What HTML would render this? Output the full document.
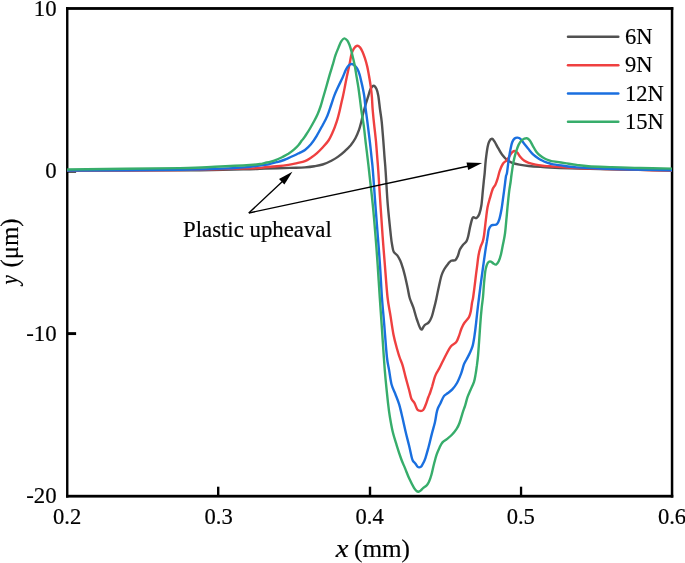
<!DOCTYPE html>
<html><head><meta charset="utf-8"><title>chart</title>
<style>
html,body{margin:0;padding:0;background:#fff;}
body{width:685px;height:563px;overflow:hidden;position:relative;}
svg{position:absolute;left:0;top:0;display:block;}
text{font-family:"Liberation Serif",serif;fill:#000;stroke:#000;stroke-width:0.18px;}
</style></head><body>
<svg width="685" height="563" viewBox="0 0 685 563">
<rect width="685" height="563" fill="#fff"/>
<!-- frame -->
<g fill="#000">
<rect x="66.05" y="7.08" width="2.4" height="490.52"/>
<rect x="670.8" y="7.08" width="2.5" height="490.52"/>
<rect x="66.05" y="7.08" width="607.25" height="2.8"/>
<rect x="66.05" y="494.8" width="607.25" height="2.8"/>
<rect x="67" y="169.75" width="9.1" height="2.9"/>
<rect x="67" y="332.15" width="9.1" height="2.9"/>
<rect x="217" y="486.7" width="2.4" height="9"/>
<rect x="368.8" y="486.7" width="2.4" height="9"/>
<rect x="519.9" y="486.7" width="2.3" height="9"/>
</g>
<g fill="none" stroke-width="2.4" stroke-linejoin="round" stroke-linecap="butt">
<path d="M67.2 170.6C89.3 170.5 169.5 170.4 200.0 170.2C230.5 170.0 239.2 169.5 250.0 169.2C260.8 168.9 258.3 168.7 265.0 168.5C271.7 168.3 283.3 168.1 290.0 167.9C296.7 167.7 300.9 167.7 305.0 167.4C309.1 167.1 311.5 166.8 314.4 166.3C317.3 165.8 319.9 165.4 322.6 164.5C325.3 163.6 328.3 162.3 330.8 161.0C333.3 159.7 335.5 158.6 337.8 156.9C340.1 155.2 342.8 153.1 344.9 151.1C347.0 149.1 348.9 147.3 350.7 145.2C352.4 143.0 354.0 140.8 355.4 138.2C356.8 135.6 358.0 132.7 359.0 129.9C360.0 127.2 360.6 124.4 361.3 121.7C362.0 119.0 362.4 116.5 363.1 113.5C363.9 110.5 364.9 107.0 365.8 104.0C366.7 101.0 367.6 98.2 368.4 95.7C369.2 93.2 369.6 90.7 370.5 89.0C371.4 87.3 372.7 85.7 373.7 85.7C374.7 85.7 375.7 87.3 376.5 89.0C377.3 90.7 377.7 92.2 378.3 95.7C378.9 99.2 379.5 105.7 380.1 110.0C380.7 114.3 381.2 116.8 381.7 121.7C382.2 126.6 382.7 133.4 383.2 139.3C383.7 145.2 384.1 151.6 384.5 156.9C384.9 162.2 385.1 162.9 385.6 171.0C386.2 179.1 386.9 194.4 387.8 205.2C388.7 216.0 390.2 229.3 390.9 236.0C391.6 242.7 391.7 242.8 392.2 245.4C392.7 248.0 392.8 250.1 393.7 251.8C394.6 253.5 396.2 253.9 397.3 255.4C398.4 256.9 399.2 258.4 400.2 260.6C401.2 262.8 402.2 265.9 403.1 268.8C404.0 271.7 404.7 274.9 405.5 278.2C406.3 281.5 407.1 285.5 407.8 288.8C408.5 292.1 408.8 294.9 409.7 298.0C410.6 301.1 412.2 304.1 413.4 307.7C414.6 311.3 415.6 315.9 416.9 319.5C418.2 323.1 419.7 328.4 421.0 329.4C422.3 330.4 423.2 326.5 424.5 325.3C425.8 324.1 427.5 323.8 428.7 322.4C429.9 321.0 430.7 319.4 431.6 317.1C432.5 314.9 433.1 311.9 433.9 308.9C434.7 305.9 435.5 302.8 436.3 299.0C437.1 295.2 438.0 290.3 438.9 286.4C439.8 282.5 440.6 278.3 441.5 275.5C442.4 272.7 443.0 271.5 444.1 269.5C445.2 267.5 447.0 265.2 448.2 263.7C449.4 262.2 449.9 261.3 451.1 260.7C452.3 260.1 454.1 260.9 455.2 260.2C456.3 259.5 456.8 258.4 457.6 256.6C458.4 254.8 459.0 251.6 459.9 249.6C460.8 247.6 461.8 246.3 462.9 244.9C464.0 243.5 465.5 242.9 466.4 241.4C467.3 239.9 467.5 238.9 468.2 236.2C468.9 233.5 469.7 228.2 470.5 225.1C471.3 222.0 471.9 218.7 472.9 217.5C473.9 216.3 475.3 218.7 476.4 218.1C477.5 217.5 478.5 216.2 479.3 214.0C480.1 211.8 480.8 209.0 481.4 205.2C482.0 201.4 482.4 195.1 482.8 191.1C483.2 187.1 483.5 184.1 483.8 181.0C484.1 177.9 484.4 176.3 484.7 172.8C485.0 169.3 485.3 164.2 485.8 159.9C486.3 155.6 487.0 150.1 487.6 147.0C488.2 143.9 488.6 142.5 489.4 141.1C490.1 139.7 491.2 138.7 492.1 138.8C493.0 138.9 493.6 140.1 494.6 141.7C495.6 143.3 497.0 146.1 498.2 148.2C499.4 150.2 500.3 152.2 501.7 154.0C503.1 155.8 504.6 157.8 506.4 159.3C508.1 160.8 510.1 161.9 512.2 162.8C514.4 163.7 516.5 164.1 519.3 164.6C522.0 165.1 525.2 165.6 528.7 166.0C532.2 166.4 536.9 166.7 540.4 166.9C543.9 167.2 545.1 167.2 550.0 167.5C554.9 167.8 560.0 168.1 570.0 168.4C580.0 168.7 593.0 169.0 610.0 169.3C627.0 169.7 661.7 170.3 672.0 170.5" stroke="#515151"/>
<path d="M67.2 170.6C86.0 170.5 149.5 170.5 180.0 170.1C210.5 169.7 235.8 168.9 250.0 168.4C264.2 167.9 260.6 167.7 265.0 167.3C269.4 167.0 272.8 166.7 276.7 166.3C280.6 165.9 285.0 165.4 288.4 164.9C291.8 164.4 294.3 163.7 297.1 163.1C299.9 162.5 302.7 162.1 305.0 161.2C307.3 160.3 308.9 159.1 310.9 157.8C312.8 156.5 314.8 155.1 316.7 153.4C318.6 151.7 320.6 149.7 322.6 147.5C324.6 145.3 326.7 143.2 328.5 140.5C330.3 137.8 331.8 134.2 333.2 131.1C334.6 128.0 335.6 125.0 336.7 121.7C337.8 118.4 338.8 114.3 339.6 111.0C340.4 107.7 341.0 104.5 341.6 102.0C342.2 99.5 342.4 98.7 343.0 96.0C343.6 93.3 344.3 89.6 345.0 86.0C345.7 82.4 346.5 78.3 347.3 74.6C348.1 70.9 348.9 67.3 349.6 64.0C350.3 60.7 350.7 57.1 351.4 54.6C352.1 52.1 352.7 50.3 353.7 48.8C354.7 47.3 356.1 46.0 357.2 45.8C358.3 45.6 359.3 46.6 360.2 47.6C361.1 48.6 361.7 49.9 362.5 51.7C363.3 53.5 364.1 55.8 364.9 58.2C365.7 60.7 366.5 63.5 367.2 66.4C367.9 69.3 368.4 72.4 369.0 75.7C369.6 79.0 370.2 82.8 370.7 86.3C371.2 89.8 371.6 93.0 371.9 97.0C372.2 101.0 372.3 105.3 372.7 110.0C373.1 114.7 373.6 119.9 374.2 125.2C374.8 130.5 375.5 136.0 376.0 141.7C376.5 147.4 377.0 154.4 377.4 159.3C377.8 164.2 377.8 163.3 378.3 171.0C378.8 178.7 379.8 194.4 380.5 205.2C381.2 216.0 381.9 226.0 382.6 236.0C383.3 246.0 384.1 255.1 384.9 265.3C385.7 275.5 386.6 288.6 387.5 297.0C388.4 305.4 389.5 309.6 390.5 315.9C391.5 322.2 392.4 329.2 393.5 334.7C394.6 340.2 396.0 345.1 397.0 348.8C398.0 352.5 398.6 354.2 399.5 357.0C400.4 359.8 401.6 362.0 402.6 365.4C403.6 368.8 404.5 373.0 405.6 377.1C406.7 381.2 408.1 386.4 409.1 390.0C410.1 393.6 410.5 396.7 411.4 398.8C412.3 400.9 413.4 401.1 414.4 402.9C415.4 404.7 416.3 408.1 417.3 409.4C418.3 410.7 419.2 410.8 420.2 410.9C421.2 411.0 422.3 410.9 423.2 410.0C424.1 409.1 424.6 407.5 425.5 405.3C426.4 403.1 427.6 399.1 428.4 397.0C429.2 394.9 429.6 394.3 430.2 392.5C430.8 390.7 431.4 388.8 432.2 386.3C432.9 383.8 434.0 379.4 434.7 377.3C435.4 375.2 435.6 374.9 436.3 373.5C437.0 372.1 437.9 370.9 439.0 368.9C440.1 366.8 441.5 363.8 442.8 361.2C444.1 358.6 445.4 356.0 446.7 353.5C448.0 351.0 449.2 348.3 450.8 346.4C452.4 344.5 454.7 344.1 456.1 342.3C457.5 340.6 458.1 338.1 459.0 335.9C459.9 333.6 460.5 330.9 461.4 328.8C462.3 326.7 463.0 324.9 464.3 323.0C465.6 321.1 467.9 319.1 469.0 317.1C470.1 315.1 470.3 313.6 470.8 311.2C471.3 308.8 471.6 305.4 472.0 303.0C472.4 300.6 472.7 300.6 473.2 297.0C473.7 293.4 474.6 286.3 475.2 281.3C475.8 276.3 476.4 271.5 477.0 267.2C477.6 262.9 477.9 258.8 478.5 255.5C479.1 252.2 479.8 249.5 480.5 247.2C481.2 244.8 482.2 243.4 482.8 241.4C483.4 239.4 483.6 238.5 484.1 235.0C484.6 231.5 485.2 225.0 485.8 220.4C486.4 215.8 486.8 211.2 487.5 207.5C488.2 203.8 489.0 201.3 489.9 198.2C490.8 195.1 491.9 191.1 492.8 188.8C493.7 186.5 494.7 186.2 495.5 184.5C496.3 182.8 496.9 181.0 497.6 178.7C498.3 176.3 499.0 172.8 499.9 170.4C500.8 168.0 501.6 165.8 502.8 164.0C504.0 162.2 505.7 161.5 507.0 159.9C508.3 158.3 509.5 156.0 510.5 154.6C511.5 153.2 512.0 152.3 512.8 151.7C513.6 151.1 514.4 150.9 515.2 151.1C516.0 151.3 516.6 151.8 517.5 152.8C518.4 153.8 519.3 155.7 520.4 157.0C521.5 158.3 522.6 159.5 524.0 160.5C525.4 161.5 526.8 162.1 528.7 162.8C530.7 163.5 533.4 164.1 535.7 164.6C538.0 165.1 540.3 165.4 542.7 165.7C545.1 166.0 544.3 165.9 550.0 166.3C555.7 166.7 566.7 167.6 576.7 168.1C586.7 168.6 599.5 168.8 610.0 169.1C620.5 169.4 629.7 169.7 640.0 169.9C650.3 170.2 666.7 170.5 672.0 170.6" stroke="#ef4040"/>
<path d="M67.2 170.6C86.0 170.5 152.4 170.2 180.0 169.8C207.6 169.4 220.9 168.7 232.6 168.2C244.3 167.7 244.6 167.4 250.0 166.8C255.4 166.2 261.5 165.4 265.0 164.9C268.5 164.4 268.9 164.1 270.8 163.7C272.8 163.2 274.8 162.7 276.7 162.2C278.6 161.7 280.6 161.2 282.5 160.5C284.4 159.8 286.4 158.9 288.4 158.1C290.3 157.3 292.3 156.4 294.2 155.5C296.1 154.6 298.2 153.5 300.0 152.6C301.8 151.7 303.2 151.4 305.0 150.0C306.8 148.6 308.9 146.7 310.9 144.3C312.8 141.9 314.8 139.0 316.7 135.8C318.6 132.6 320.8 128.5 322.6 125.2C324.4 121.9 325.9 119.4 327.3 115.9C328.8 112.5 330.1 107.9 331.3 104.5C332.5 101.1 333.2 98.4 334.4 95.4C335.5 92.5 336.9 89.7 338.2 86.8C339.5 83.9 341.1 80.9 342.4 78.0C343.7 75.1 345.0 71.4 346.1 69.3C347.2 67.2 348.1 66.1 349.0 65.2C349.9 64.3 350.5 64.0 351.4 64.0C352.3 64.0 353.3 64.4 354.3 65.2C355.3 66.0 356.3 67.1 357.2 68.7C358.1 70.3 358.9 72.4 359.6 74.6C360.3 76.8 360.7 79.1 361.3 81.6C361.9 84.1 362.6 87.2 363.1 89.8C363.6 92.4 363.9 93.6 364.4 97.0C364.8 100.4 365.2 105.3 365.8 110.0C366.4 114.7 367.1 119.5 367.8 125.2C368.5 130.9 369.4 137.9 370.1 144.0C370.8 150.1 371.5 157.1 372.0 161.6C372.5 166.1 372.3 163.7 372.9 171.0C373.5 178.3 374.6 194.4 375.4 205.2C376.2 216.0 377.0 226.0 377.8 236.0C378.6 246.0 379.3 255.1 380.0 265.3C380.7 275.5 381.2 287.0 381.9 297.0C382.6 307.0 383.5 315.3 384.3 325.3C385.1 335.3 386.1 349.5 386.9 357.0C387.7 364.5 388.3 365.6 389.1 370.1C389.9 374.6 390.4 380.1 391.5 384.2C392.6 388.3 394.3 391.4 395.6 394.7C396.9 398.0 398.1 400.9 399.1 404.1C400.1 407.3 400.5 409.5 401.6 414.0C402.7 418.5 404.3 426.0 405.5 431.2C406.7 436.4 408.0 441.1 409.0 445.3C410.0 449.5 410.9 453.9 411.5 456.5C412.1 459.1 412.2 459.4 412.8 460.6C413.4 461.8 414.5 462.5 415.3 463.5C416.1 464.5 416.8 466.0 417.5 466.6C418.2 467.2 418.6 467.5 419.3 467.4C420.0 467.3 420.8 467.1 421.5 466.2C422.2 465.3 423.0 463.6 423.7 462.2C424.4 460.8 424.7 460.2 425.5 457.8C426.3 455.4 427.3 451.7 428.4 447.7C429.5 443.7 430.8 437.8 431.9 433.6C433.0 429.4 434.1 425.9 434.9 422.5C435.7 419.1 436.0 415.9 436.5 413.5C437.0 411.1 437.2 410.1 437.9 408.3C438.6 406.5 439.6 405.0 440.6 402.9C441.6 400.8 442.9 397.5 444.1 395.9C445.3 394.3 446.2 394.4 447.6 393.3C449.0 392.2 450.7 391.1 452.3 389.4C453.9 387.7 455.5 385.6 457.0 383.0C458.5 380.4 459.9 376.7 461.1 373.6C462.3 370.5 463.1 366.6 464.0 364.2C464.9 361.8 465.6 361.3 466.5 359.5C467.4 357.7 468.6 355.7 469.6 353.5C470.6 351.3 471.7 349.1 472.5 346.4C473.3 343.7 473.7 341.0 474.3 337.1C474.9 333.2 475.6 327.5 476.1 323.0C476.6 318.5 477.0 314.4 477.5 310.1C478.0 305.8 478.5 301.8 479.1 297.0C479.7 292.2 480.4 286.5 481.1 281.3C481.8 276.1 482.5 270.9 483.2 266.0C483.9 261.1 484.6 256.0 485.2 251.9C485.8 247.8 486.4 244.2 486.9 241.4C487.3 238.6 487.6 236.9 487.9 235.0C488.2 233.1 488.2 231.4 488.7 229.8C489.2 228.2 490.2 226.5 491.1 225.7C492.0 224.9 493.0 225.2 494.0 224.9C495.0 224.7 496.0 225.1 496.9 224.2C497.8 223.3 498.5 221.9 499.3 219.3C500.1 216.7 500.9 212.6 501.6 208.7C502.3 204.8 502.8 200.1 503.4 195.8C504.0 191.5 504.7 186.2 505.1 182.9C505.5 179.6 505.7 177.7 506.0 176.0C506.3 174.3 506.6 175.5 507.0 172.8C507.4 170.1 508.1 163.8 508.7 159.9C509.3 156.0 509.9 152.2 510.5 149.3C511.1 146.4 511.5 144.1 512.2 142.3C512.9 140.5 513.7 139.3 514.6 138.5C515.5 137.7 516.5 137.5 517.5 137.6C518.5 137.7 519.3 137.8 520.4 138.8C521.5 139.8 522.6 141.8 524.0 143.5C525.4 145.2 527.2 147.5 528.7 149.3C530.2 151.2 531.5 153.0 533.3 154.6C535.0 156.2 537.8 158.0 539.2 158.9C540.6 159.8 540.7 159.7 541.7 160.2C542.7 160.7 543.7 161.3 545.1 161.9C546.5 162.5 548.6 163.1 550.0 163.5C551.4 163.9 550.9 164.0 553.4 164.4C555.9 164.8 561.1 165.5 565.0 166.0C568.9 166.5 570.9 167.0 576.7 167.4C582.5 167.8 591.1 168.2 600.0 168.6C608.9 168.9 618.0 169.2 630.0 169.5C642.0 169.8 665.0 170.2 672.0 170.3" stroke="#1a6fdf"/>
<path d="M67.2 169.5C86.0 169.3 155.4 168.5 180.0 168.1C204.6 167.7 203.3 167.3 215.0 166.8C226.7 166.3 242.5 165.5 250.0 165.0C257.5 164.5 257.5 164.3 260.0 164.0C262.5 163.7 263.2 163.3 265.0 162.9C266.8 162.5 268.9 162.2 270.8 161.6C272.8 161.0 274.8 160.4 276.7 159.6C278.6 158.8 280.6 158.0 282.5 157.0C284.4 156.0 286.4 155.1 288.4 153.8C290.3 152.5 292.5 150.9 294.2 149.4C295.9 147.9 297.3 146.5 298.6 145.0C299.9 143.5 300.9 141.7 302.0 140.3C303.1 138.9 303.7 138.4 305.0 136.4C306.3 134.4 308.5 131.1 310.0 128.5C311.5 125.9 312.9 123.4 314.2 121.0C315.5 118.6 316.6 116.5 317.7 114.0C318.8 111.5 319.7 109.0 320.7 106.0C321.7 103.0 322.6 99.3 323.6 96.0C324.6 92.7 325.5 89.6 326.5 86.0C327.5 82.4 328.7 78.1 329.7 74.6C330.7 71.1 331.6 68.4 332.6 65.2C333.6 62.0 334.5 58.1 335.5 55.2C336.5 52.3 337.5 50.0 338.5 47.6C339.5 45.2 340.4 42.6 341.4 41.1C342.4 39.6 343.3 38.5 344.3 38.4C345.3 38.3 346.4 39.5 347.3 40.6C348.2 41.7 348.9 43.5 349.6 45.2C350.3 47.0 350.8 48.9 351.4 51.1C352.0 53.3 352.5 55.7 353.1 58.2C353.7 60.8 354.3 63.3 354.9 66.4C355.5 69.5 356.0 73.4 356.6 76.9C357.2 80.4 357.9 84.0 358.4 87.5C358.9 91.0 359.3 94.2 359.8 98.0C360.3 101.8 360.7 105.5 361.3 110.0C361.9 114.5 362.9 119.3 363.7 125.2C364.5 131.1 365.2 138.7 366.0 145.2C366.8 151.7 367.8 159.5 368.3 164.0C368.8 168.5 368.4 165.1 369.2 172.0C369.9 178.9 371.8 194.5 372.8 205.2C373.9 215.9 374.7 226.0 375.5 236.0C376.3 246.0 377.0 255.0 377.7 265.3C378.4 275.6 379.1 288.0 379.8 298.0C380.5 308.0 381.0 315.3 381.7 325.3C382.4 335.3 383.2 349.0 383.9 358.0C384.5 367.0 384.9 372.0 385.6 379.5C386.3 387.0 387.3 396.6 388.0 402.9C388.7 409.1 389.1 412.3 389.9 417.0C390.7 421.7 391.5 426.5 392.6 431.2C393.7 435.9 395.3 440.7 396.7 445.3C398.1 449.9 399.8 455.1 401.2 459.0C402.6 462.9 403.7 465.0 405.1 468.4C406.5 471.8 408.0 475.9 409.5 479.1C411.0 482.4 412.8 485.9 414.0 487.9C415.2 489.9 415.9 490.4 416.6 491.0C417.3 491.6 417.7 491.8 418.4 491.7C419.1 491.6 419.8 491.2 420.6 490.6C421.4 490.0 422.3 488.7 423.3 487.9C424.3 487.1 425.4 486.7 426.4 485.7C427.3 484.7 428.1 483.6 429.0 481.7C429.9 479.8 430.7 477.4 431.5 474.5C432.3 471.6 433.1 467.3 434.0 464.0C434.9 460.7 435.7 457.4 436.6 454.7C437.5 452.0 438.5 449.8 439.5 447.7C440.5 445.6 441.2 443.9 442.5 442.4C443.8 440.9 445.6 440.2 447.2 438.9C448.8 437.6 450.3 436.5 451.9 434.8C453.5 433.1 455.3 430.9 456.6 428.9C457.9 426.9 458.6 425.5 459.5 423.0C460.4 420.5 461.4 416.8 462.3 413.8C463.2 410.9 464.3 408.1 465.2 405.3C466.1 402.5 466.6 399.7 467.5 397.1C468.4 394.6 469.4 392.6 470.5 390.0C471.6 387.4 473.1 384.5 474.0 381.8C474.9 379.1 475.2 376.3 475.7 373.6C476.2 370.9 476.5 368.0 476.9 365.4C477.2 362.8 477.4 361.8 477.8 358.0C478.2 354.2 478.6 348.3 479.0 342.9C479.4 337.4 479.8 331.2 480.2 325.3C480.6 319.4 481.2 312.4 481.7 307.7C482.2 303.0 482.6 301.0 483.0 297.0C483.4 293.0 483.6 287.8 484.0 283.6C484.4 279.4 484.8 274.9 485.2 271.9C485.6 268.9 486.1 267.1 486.7 265.4C487.3 263.7 488.0 262.5 488.7 261.9C489.4 261.3 490.2 261.4 491.0 261.6C491.8 261.9 492.5 262.9 493.4 263.4C494.2 263.9 495.2 265.0 496.1 264.6C497.0 264.2 497.9 263.0 498.7 261.3C499.5 259.6 500.3 257.2 501.0 254.3C501.7 251.4 502.4 247.2 503.1 243.7C503.8 240.2 504.5 237.4 505.0 233.5C505.5 229.6 505.9 225.1 506.3 220.4C506.8 215.7 507.2 210.1 507.7 205.2C508.2 200.3 508.7 195.0 509.2 191.1C509.7 187.2 510.2 184.8 510.6 182.0C511.0 179.2 511.1 177.3 511.6 174.0C512.1 170.7 512.7 165.7 513.4 162.2C514.1 158.7 514.8 155.7 515.7 152.8C516.6 149.9 517.6 146.8 518.7 144.6C519.8 142.4 520.8 141.0 522.2 139.9C523.6 138.8 525.6 138.1 526.9 138.2C528.2 138.3 528.8 139.2 529.8 140.5C530.8 141.8 531.7 143.9 532.8 145.8C533.9 147.7 535.0 150.0 536.3 151.7C537.6 153.4 538.9 154.6 540.4 155.8C541.9 157.0 543.5 157.9 545.1 158.7C546.7 159.5 548.6 160.1 550.0 160.6C551.4 161.1 550.9 161.0 553.4 161.4C555.9 161.8 561.1 162.5 565.0 163.1C568.9 163.7 572.8 164.4 576.7 164.9C580.6 165.4 582.9 165.8 588.4 166.2C593.9 166.6 601.4 166.8 610.0 167.1C618.6 167.4 629.7 167.8 640.0 168.0C650.3 168.2 666.7 168.5 672.0 168.6" stroke="#37ad6b"/>
</g>
<!-- annotation arrows -->
<g stroke="#000" stroke-width="1.4" fill="#000">
<line x1="248.8" y1="213" x2="284" y2="180"/>
<line x1="248.8" y1="213" x2="470" y2="165.7"/>
<polygon points="292.4,171.8 284.4,184.6 279.0,178.9" stroke="none"/>
<polygon points="482.1,163.1 468.2,170.0 466.5,162.6" stroke="none"/>
</g>
<text x="183.0" y="236.9" font-size="22.8">Plastic upheaval</text>
<!-- y tick labels -->
<g font-size="22.8" text-anchor="end">
<text x="56.6" y="15.7">10</text>
<text x="56.6" y="178">0</text>
<text x="56.6" y="340.6">-10</text>
<text x="56.6" y="502.8">-20</text>
</g>
<g font-size="22.6" text-anchor="middle">
<text x="67.2" y="524.4">0.2</text>
<text x="218.6" y="524.4">0.3</text>
<text x="369.6" y="524.4">0.4</text>
<text x="520.8" y="524.4">0.5</text>
<text x="672" y="524.4">0.6</text>
</g>
<text transform="translate(335.85,557) scale(1.1,1)" font-size="26" font-style="italic">x</text>
<text x="354" y="557" font-size="25.2">(mm)</text>
<text transform="translate(18.4,284.4) rotate(-90) scale(0.81,1)" font-size="26" font-style="italic">y</text>
<text transform="translate(18.4,267.5) rotate(-90)" font-size="24.8">(μm)</text>
<!-- legend -->
<g stroke-width="2.5" stroke-linecap="round">
<line x1="568" y1="36.8" x2="618.3" y2="36.8" stroke="#515151"/>
<line x1="568" y1="65.2" x2="618.3" y2="65.2" stroke="#ef4040"/>
<line x1="568" y1="93.5" x2="618.3" y2="93.5" stroke="#1a6fdf"/>
<line x1="568" y1="121.8" x2="618.3" y2="121.8" stroke="#37ad6b"/>
</g>
<g font-size="22.5">
<text x="624.9" y="44.1">6N</text>
<text x="624.9" y="72.4">9N</text>
<text x="624.9" y="100.7">12N</text>
<text x="624.9" y="129.1">15N</text>
</g>
</svg>
</body></html>
